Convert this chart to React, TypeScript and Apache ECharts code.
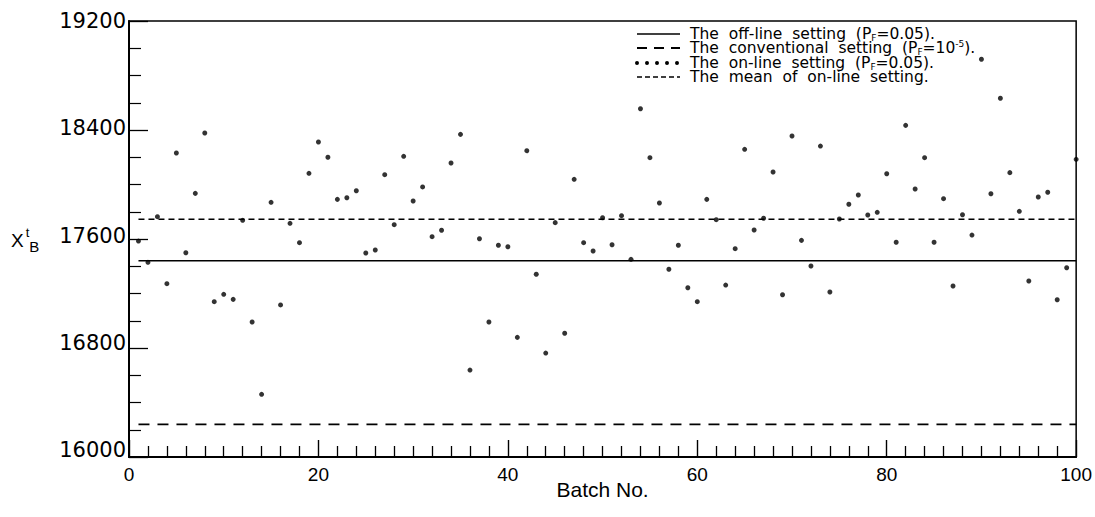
import React, { useEffect, useRef } from "react";
import * as echarts from "echarts";

// On-line setting (P_F = 0.05), batches 1..100
const onlineSetting = [
  17585, 17429, 17764, 17272, 18231, 17499, 17935, 18378, 17140, 17194,
  17157, 17737, 16991, 16460, 17869, 17116, 17715, 17573, 18082, 18312,
  18200, 17891, 17903, 17954, 17497, 17519, 18072, 17705, 18207, 17879,
  17982, 17617, 17664, 18158, 18368, 16638, 17602, 16991, 17554, 17543,
  16878, 18248, 17341, 16763, 17720, 16908, 18038, 17573, 17512, 17756,
  17558, 17771, 17451, 18556, 18197, 17864, 17378, 17554, 17242, 17140,
  17891, 17742, 17262, 17529, 18258, 17666, 17752, 18092, 17191, 18356,
  17590, 17402, 18282, 17211, 17747, 17855, 17923, 17776, 17796, 18079,
  17576, 18434, 17967, 18197, 17576, 17896, 17255, 17778, 17629, 18919,
  17932, 18633, 18087, 17803, 17292, 17908, 17943, 17154, 17389, 18185,
];
const offlineSetting = 17440;
const conventionalSetting = 16240;
const onlineMean = 17745;

const xTicks = [0, 20, 40, 60, 80, 100];
const yTicks = [16000, 16800, 17600, 18400, 19200];

const legendTexts = [
  "{n|The  off-line  setting  (P}{s|F}{n|=0.05).}",
  "{n|The  conventional  setting  (P}{s|F}{n|=10}{p|-5}{n|).}",
  "{n|The  on-line  setting  (P}{s|F}{n|=0.05).}",
  "{n|The  mean  of  on-line  setting.}",
];

const LF = "DejaVu Sans";

export default function App() {
  const ref = useRef<HTMLDivElement>(null);
  useEffect(() => {
    if (!ref.current) return;
    const chart = echarts.init(ref.current, undefined, { renderer: "svg" });
    const first = 1;
    const last = onlineSetting.length;
    const legendRich = {
      n: { fontFamily: LF, fontSize: 15.5, fill: "#000" },
      s: { fontFamily: LF, fontSize: 9, padding: [8, 0, 0, 0], fill: "#000" },
      p: { fontFamily: LF, fontSize: 9, padding: [0, 0, 9, 0], fill: "#000" },
    } as any;
    const legendX1 = 637;
    const legendX2 = 680;
    const rowsY = [34, 48, 63, 77];
    const lineStyles = [
      { lineWidth: 1.5 },
      { lineWidth: 1.8, lineDash: [10, 7] },
      { lineWidth: 4, lineDash: [0, 10], lineCap: "round" },
      { lineWidth: 1.5, lineDash: [5, 3] },
    ];
    const graphic: any[] = [];
    rowsY.forEach((y, i) => {
      graphic.push({
        type: "line",
        shape: { x1: legendX1, y1: y, x2: legendX2, y2: y },
        style: { stroke: "#000", ...lineStyles[i] },
        silent: true,
      });
      graphic.push({
        type: "text",
        x: 690,
        y,
        style: {
          text: legendTexts[i],
          rich: legendRich,
          fill: "#000",
          fontFamily: LF,
          fontSize: 15.5,
          verticalAlign: "middle",
          align: "left",
        },
        silent: true,
      });
    });
    graphic.push({
      type: "text",
      x: 11,
      y: 240,
      style: {
        text: "{x|X}{t|t}{b|B}",
        verticalAlign: "middle",
        rich: {
          x: { fontFamily: "Liberation Sans", fontSize: 19, fill: "#000" },
          t: { fontFamily: "Liberation Sans", fontSize: 13, padding: [0, 0, 16, 2], fill: "#000" },
          b: { fontFamily: "Liberation Sans", fontSize: 15, padding: [12, 0, 0, 0], fill: "#000" },
        },
        fill: "#000",
      },
      silent: true,
    });

    const yShift = [14, 11, 7, 3.5, 0];
    const yRich: any = {};
    yShift.forEach((s, i) => {
      yRich["l" + i] = {
        fontFamily: LF,
        fontSize: 21,
        color: "#000",
        padding: [0, 0, s, 0],
      };
    });

    chart.setOption({
      animation: false,
      backgroundColor: "#fff",
      grid: {
        left: 129,
        right: 18,
        top: 21,
        bottom: 60,
        show: true,
        borderColor: "#000",
        borderWidth: 1.5,
        backgroundColor: "transparent",
      },
      xAxis: {
        type: "value",
        min: xTicks[0],
        max: xTicks[xTicks.length - 1],
        interval: 20,
        axisLine: { show: true, onZero: false, lineStyle: { color: "#000", width: 2 } },
        axisTick: { show: true, inside: true, length: 17, lineStyle: { color: "#000", width: 1.4 } },
        minorTick: { show: true, splitNumber: 10, length: 11, lineStyle: { color: "#000", width: 1.3 } },
        splitLine: { show: false },
        axisLabel: {
          color: "#000",
          fontFamily: "Liberation Sans",
          fontSize: 19,
          margin: 8,
        },
        name: "Batch No.",
        nameLocation: "middle",
        nameGap: 22,
        nameMoveOverlap: false,
        nameTextStyle: { color: "#000", fontFamily: "Liberation Sans", fontSize: 21 },
      },
      yAxis: {
        type: "value",
        min: yTicks[0],
        max: yTicks[yTicks.length - 1],
        interval: 800,
        axisLine: { show: true, onZero: false, lineStyle: { color: "#000", width: 2 } },
        axisTick: { show: true, inside: true, length: 19, lineStyle: { color: "#000", width: 1.3 } },
        minorTick: { show: true, splitNumber: 4, length: 12, lineStyle: { color: "#000", width: 1.2 } },
        splitLine: { show: false },
        axisLabel: {
          color: "#000",
          margin: 3,
          formatter: (v: number) => {
            const i = yTicks.indexOf(v);
            return "{l" + (i < 0 ? 4 : i) + "|" + v + "}";
          },
          rich: yRich,
        },
      },
      graphic,
      series: [
        {
          type: "line",
          data: [
            [first, offlineSetting],
            [last, offlineSetting],
          ],
          symbol: "none",
          lineStyle: { color: "#000", width: 1.6 },
          silent: true,
        },
        {
          type: "line",
          data: [
            [first, conventionalSetting],
            [last, conventionalSetting],
          ],
          symbol: "none",
          lineStyle: { color: "#000", width: 1.8, type: [11, 8] },
          silent: true,
        },
        {
          type: "line",
          data: [
            [first, onlineMean],
            [last, onlineMean],
          ],
          symbol: "none",
          lineStyle: { color: "#000", width: 1.6, type: [6, 4] },
          silent: true,
        },
        {
          type: "scatter",
          data: onlineSetting.map((v, i) => [i + 1, v]),
          symbol: "circle",
          symbolSize: 5,
          itemStyle: { color: "#000" },
          silent: true,
        },
      ],
    });
    return () => chart.dispose();
  }, []);
  return <div ref={ref} style={{ width: 1095, height: 517, position: "absolute", left: 0, top: 0 }} />;
}
